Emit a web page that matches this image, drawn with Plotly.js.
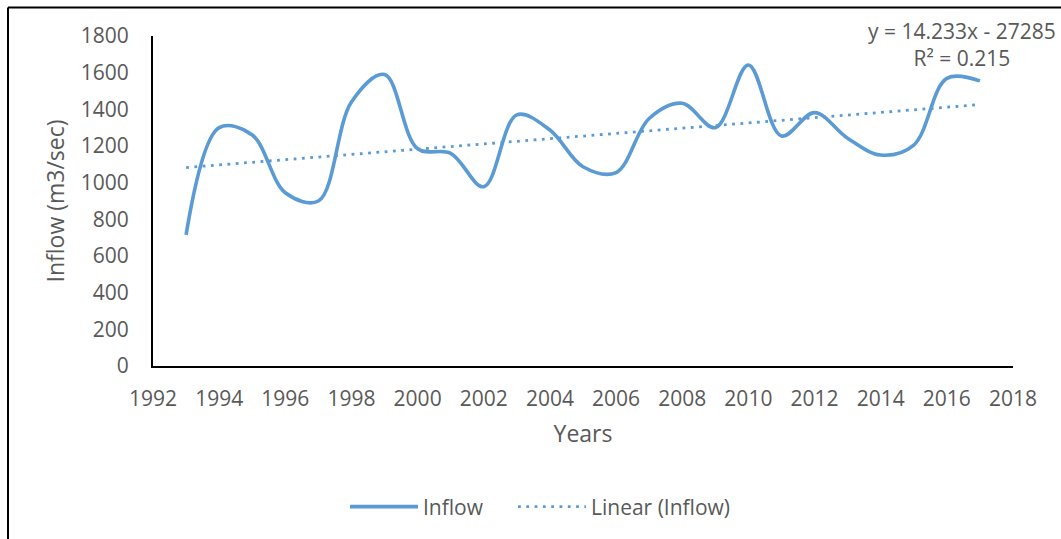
<!DOCTYPE html>
<html>
<head>
<meta charset="utf-8">
<script src="https://cdn.plot.ly/plotly-3.0.1.min.js"></script>
<style>
  html, body { margin: 0; padding: 0; background: #fff; }
  #chart { width: 1061px; height: 539px; }
</style>
</head>
<body>
<div id="chart"></div>
<script>
// ---- Data ----
const years = [1993, 1994, 1995, 1996, 1997, 1998, 1999, 2000, 2001, 2002, 2003, 2004, 2005,
               2006, 2007, 2008, 2009, 2010, 2011, 2012, 2013, 2014, 2015, 2016, 2017];
const inflow = [715, 1300, 1260, 945, 900, 1440, 1590, 1185, 1160, 978, 1370, 1287, 1087,
                1055, 1350, 1433, 1300, 1642, 1255, 1382, 1242, 1151, 1205, 1569, 1555];
const xTickVals = [1992, 1994, 1996, 1998, 2000, 2002, 2004, 2006, 2008, 2010, 2012, 2014, 2016, 2018];
const yTickVals = [0, 200, 400, 600, 800, 1000, 1200, 1400, 1600, 1800];
const equationText = "y = 14.233x - 27285<br>R² = 0.215";
const seriesName = "Inflow";
const trendName = "Linear (Inflow)";

// ---- Least-squares linear trend from the data ----
const n = years.length;
const mx = years.reduce((a, b) => a + b, 0) / n;
const my = inflow.reduce((a, b) => a + b, 0) / n;
let sxy = 0, sxx = 0;
for (let i = 0; i < n; i++) { sxy += (years[i] - mx) * (inflow[i] - my); sxx += (years[i] - mx) ** 2; }
const slope = sxy / sxx;
const intercept = my - slope * mx;
const trendX = [years[0], years[n - 1]];
const trendY = trendX.map(x => slope * x + intercept);

const blue = "#5B9BD5";
const gray = "#595959";
const fontFam = "Open Sans, Noto Sans, sans-serif";

const traces = [
  { x: years, y: inflow, type: "scatter", mode: "lines", name: seriesName, legend: "legend",
    line: { color: blue, width: 3.6, shape: "spline", smoothing: 1 } },
  { x: trendX, y: trendY, type: "scatter", mode: "lines", name: trendName, legend: "legend2",
    line: { color: blue, width: 2.8, dash: "2.8px,5.5px" } }
];

// plot area: x 153..1013, y 36..366
const L = 153, R = 1061 - 1013, T = 36, B = 539 - 366;
const W = 1061 - L - R, H = 539 - T - B;
const px = v => (v - L) / W;
const py = v => (539 - B - v) / H;

const legendFont = { family: fontFam, size: 21, color: gray };

const layout = {
  width: 1061, height: 539,
  margin: { l: L, r: R, t: T, b: B, pad: 0 },
  paper_bgcolor: "#fff", plot_bgcolor: "#fff",
  font: { family: fontFam, color: gray, size: 21 },
  showlegend: true,
  legend: { orientation: "h", x: px(345), y: py(507), xanchor: "left", yanchor: "middle",
            font: legendFont, itemwidth: 68 },
  legend2: { orientation: "h", x: px(513), y: py(507), xanchor: "left", yanchor: "middle",
             font: legendFont, itemwidth: 68 },
  xaxis: {
    range: [1992, 2018], tickvals: xTickVals, ticktext: xTickVals.map(String),
    showgrid: false, zeroline: false, showline: true, linecolor: "#000", linewidth: 2,
    ticks: "", ticklabelstandoff: 13,
    tickfont: { family: fontFam, size: 21, color: gray },
    title: { text: "Years", font: { family: fontFam, size: 23, color: gray }, standoff: 15 }
  },
  yaxis: {
    range: [0, 1800], tickvals: yTickVals, ticktext: yTickVals.map(String),
    showgrid: false, zeroline: false, showline: true, linecolor: "#000", linewidth: 2,
    ticks: "", ticklabelstandoff: 18,
    tickfont: { family: fontFam, size: 21, color: gray },
    title: { text: "Inflow (m3/sec)", font: { family: fontFam, size: 23, color: gray }, standoff: 10 }
  },
  annotations: [
    { xref: "paper", yref: "paper", x: px(962), y: py(44), xanchor: "center", yanchor: "middle",
      text: equationText, showarrow: false, align: "center",
      font: { family: fontFam, size: 21, color: gray } }
  ],
  shapes: [
    { type: "line", xref: "paper", yref: "paper", x0: px(8), x1: px(1070), y0: py(7.5), y1: py(7.5),
      line: { color: "#000", width: 2 } },
    { type: "line", xref: "paper", yref: "paper", x0: px(8), x1: px(8), y0: py(7.5), y1: py(545),
      line: { color: "#000", width: 2 } }
  ]
};

Plotly.newPlot("chart", traces, layout, { displayModeBar: false, staticPlot: true });
</script>
</body>
</html>
